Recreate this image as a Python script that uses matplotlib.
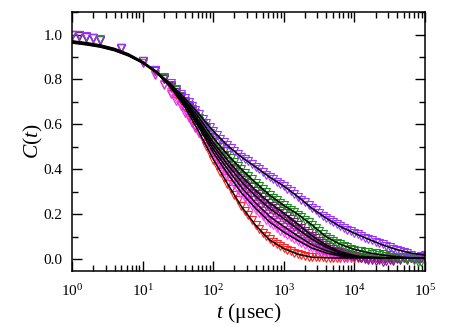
import matplotlib
matplotlib.use('Agg')
import matplotlib.pyplot as plt
from matplotlib.ticker import LogLocator, MultipleLocator, NullFormatter, FormatStrFormatter

plt.rcParams['font.family'] = 'Liberation Serif'
plt.rcParams['mathtext.fontset'] = 'custom'
plt.rcParams['mathtext.rm'] = 'Liberation Serif'
plt.rcParams['mathtext.it'] = 'Liberation Serif:italic'

# time points of the measured correlation (usec)
t_data = [1, 1.25, 1.6, 2, 2.5, 5,
          10, 15, 20, 25, 30, 35, 40, 45, 50, 56, 63, 71, 79, 89,
          100, 112, 126, 141, 158, 178, 200, 224, 251, 282,
          316, 355, 398, 447, 501, 562, 631, 708, 794, 891,
          1000, 1120, 1260, 1410, 1580, 1780, 2000, 2240, 2510, 2820,
          3160, 3550, 3980, 4470, 5010, 5620, 6310, 7080, 7940, 8910,
          10000, 11200, 12600, 14100, 15800, 17800, 20000, 22400, 25100, 28200,
          31600, 35500, 39800, 44700, 50100, 56200, 63100, 70800, 79400, 89100,
          100000]

red = [1.0, .995, .990, .984, .976, .940,
       .882, .838, .800, .762, .730, .705, .672, .646, .620, .592, .562, .533, .505, .474,
       .443, .414, .386, .361, .336, .310, .286, .262, .238, .216,
       .196, .174, .153, .135, .118, .102, .088, .076, .065, .057,
       .049, .041, .034, .028, .022, .018, .014, .010, .009, .009,
       .008, .008, .007, .007, .007, .006, .006, .007, .006, .005,
       .005, .006, .005, .004, .005, .006, .005, .004, .005, .006,
       .005, .004, .005, .006, .005, .004, .005, .005, .006, .005,
       .005]
magenta_a = [1.0, .996, .990, .985, .977, .940,
             .872, .820, .775, .737, .706, .680, .652, .628, .606, .583, .560, .539, .519, .498,
             .478, .454, .430, .412, .393, .373, .355, .335, .316, .299,
             .283, .265, .247, .231, .215, .201, .187, .175, .163, .152,
             .141, .131, .121, .111, .100, .090, .080, .072, .064, .056,
             .049, .043, .037, .032, .027, .023, .020, .017, .015, .013,
             .012, .011, .010, .009, .008, .008, .007, .007, .006, .006,
             .006, .005, .005, .005, .004, .005, .005, .006, .005, .005,
             .005]
magenta_b = [.998, .994, .990, .983, .975, .938,
             .875, .825, .780, .745, .716, .690, .662, .638, .614, .590, .565, .540, .516, .490,
             .462, .437, .412, .391, .370, .348, .328, .308, .288, .271,
             .255, .237, .220, .205, .190, .176, .162, .150, .138, .127,
             .117, .108, .099, .090, .080, .071, .063, .056, .049, .043,
             .037, .032, .027, .023, .019, .016, .014, .012, .011, .010,
             .009, .008, .008, .007, .007, .006, .006, .006, .005, .005,
             .005, .004, .005, .005, .006, .005, .004, .005, .005, .005,
             .005]
purple_b = [.999, .995, .990, .983, .975, .939,
            .880, .836, .800, .768, .742, .718, .693, .671, .650, .627, .603, .579, .556, .530,
            .505, .481, .458, .439, .419, .399, .381, .363, .345, .328,
            .313, .296, .280, .265, .251, .238, .225, .213, .202, .190,
            .179, .168, .157, .145, .132, .120, .109, .099, .089, .080,
            .071, .062, .053, .045, .037, .031, .026, .021, .017, .014,
            .011, .009, .007, .010, .005, .008, .003, .007, .001, .006,
            .009, .002, .007, .004, .010, .003, .008, .005, .002, .007,
            .006]
purple_a = [1.0, .995, .989, .984, .976, .940,
            .882, .840, .803, .771, .746, .722, .699, .679, .659, .637, .614, .591, .569, .544,
            .520, .498, .476, .458, .439, .421, .404, .386, .369, .353,
            .338, .321, .305, .291, .277, .263, .250, .238, .226, .215,
            .204, .192, .180, .167, .153, .140, .127, .115, .103, .092,
            .081, .071, .062, .053, .045, .038, .032, .026, .021, .016,
            .012, .008, .004, .001, -.003, -.006, -.010, -.004, -.012, -.007,
            -.002, -.009, .001, -.004, .003, -.002, .005, .000, .006, .003,
            .004]
green = [1.0, .996, .991, .985, .977, .941,
         .882, .840, .805, .775, .752, .728, .705, .686, .668, .649, .630, .608, .586, .563,
         .540, .520, .500, .483, .465, .448, .432, .416, .400, .385,
         .372, .356, .340, .326, .312, .298, .285, .273, .261, .250,
         .239, .229, .220, .209, .198, .186, .174, .163, .152, .139,
         .126, .113, .100, .090, .080, .073, .066, .059, .053, .047,
         .042, .036, .037, .030, .031, .024, .026, .019, .021, .014,
         .016, .009, .010, .004, .007, .001, .006, -.004, -.012, -.015,
         .010]
violet = [1.0, .997, .992, .986, .978, .942,
          .882, .842, .810, .782, .758, .736, .716, .699, .682, .664, .645, .626, .607, .588,
          .570, .552, .535, .521, .507, .493, .480, .467, .455, .444,
          .435, .423, .411, .400, .388, .376, .365, .355, .345, .335,
          .325, .314, .303, .291, .278, .265, .252, .240, .228, .217,
          .205, .194, .183, .173, .163, .155, .146, .138, .130, .123,
          .116, .110, .103, .096, .090, .083, .077, .071, .065, .058,
          .053, .047, .042, .038, .033, .025, .018, .010, .008, .012,
          .018]

# time points of the fitted curves
t_fit = [1, 1.6, 2.5, 4, 6.3, 10, 16, 25, 40, 63, 100, 160, 250, 400, 630,
         1000, 1600, 2500, 4000, 6300, 10000, 16000, 25000, 40000, 63000, 100000]

fit_red = [0.968, 0.960, 0.950, 0.934, 0.910, 0.876, 0.830, 0.765, 0.675, 0.565, 0.445, 0.335, 0.235,
           0.150, 0.085, 0.047, 0.021, 0.008, 0.006, 0.005, 0.005, 0.005, 0.005, 0.005, 0.005, 0.005]
fit_magenta_a = [0.970, 0.962, 0.952, 0.936, 0.911, 0.877, 0.830, 0.768, 0.690, 0.595, 0.490, 0.400, 0.320,
                 0.250, 0.190, 0.145, 0.102, 0.064, 0.037, 0.020, 0.012, 0.008, 0.006, 0.005, 0.005, 0.005]
fit_magenta_b = [0.966, 0.958, 0.948, 0.932, 0.908, 0.874, 0.828, 0.766, 0.685, 0.585, 0.475, 0.380, 0.295,
                 0.225, 0.165, 0.120, 0.082, 0.049, 0.027, 0.014, 0.009, 0.006, 0.005, 0.005, 0.005, 0.005]
fit_purple_a = [0.972, 0.964, 0.954, 0.938, 0.914, 0.880, 0.834, 0.772, 0.700, 0.615, 0.520, 0.440, 0.370,
                0.305, 0.250, 0.205, 0.154, 0.104, 0.062, 0.033, 0.016, 0.008, 0.005, 0.004, 0.004, 0.004]
fit_purple_b = [0.964, 0.956, 0.946, 0.930, 0.906, 0.873, 0.828, 0.770, 0.695, 0.605, 0.505, 0.420, 0.345,
                0.280, 0.225, 0.180, 0.132, 0.089, 0.053, 0.026, 0.012, 0.007, 0.006, 0.006, 0.006, 0.006]
fit_green = [0.967, 0.959, 0.949, 0.933, 0.909, 0.876, 0.832, 0.775, 0.705, 0.630, 0.540, 0.465, 0.400,
             0.340, 0.285, 0.239, 0.198, 0.152, 0.099, 0.066, 0.043, 0.028, 0.018, 0.010, 0.006, 0.004]
fit_violet = [0.962, 0.954, 0.944, 0.928, 0.905, 0.874, 0.833, 0.780, 0.715, 0.645, 0.570, 0.505, 0.455,
              0.410, 0.365, 0.325, 0.277, 0.226, 0.182, 0.145, 0.115, 0.088, 0.063, 0.042, 0.027, 0.018]

series = [
    (red, fit_red, '#ff2020'),
    (magenta_b, fit_magenta_b, '#ff40ff'),
    (magenta_a, fit_magenta_a, '#e030e0'),
    (purple_b, fit_purple_b, '#a02ca0'),
    (purple_a, fit_purple_a, '#7f1a7f'),
    (green, fit_green, '#1c8a1c'),
    (violet, fit_violet, '#9933ff'),
]

fig = plt.figure(figsize=(4.68, 3.27), dpi=100)
ax = fig.add_axes([0.154, 0.172, 0.754, 0.791])

for data, fit, color in series:
    ax.plot(t_data, data, linestyle='none', marker='v', markersize=5.5,
            markerfacecolor='none', markeredgecolor=color, markeredgewidth=0.8)
for data, fit, color in series:
    ax.plot(t_fit, fit, color='black', linewidth=1.1)

ax.set_xscale('log')
ax.set_xlim(1, 1e5)
ax.set_ylim(-0.052, 1.1)
ax.yaxis.set_major_locator(MultipleLocator(0.2))
ax.yaxis.set_minor_locator(MultipleLocator(0.1))
ax.yaxis.set_major_formatter(FormatStrFormatter('%.1f'))
ax.xaxis.set_minor_locator(LogLocator(base=10, subs=range(2, 10), numticks=20))
ax.xaxis.set_minor_formatter(NullFormatter())

ax.tick_params(which='both', direction='in', top=True, right=True, width=1.0,
               labelsize=11, pad=7)
ax.tick_params(axis='x', which='both', pad=9)
ax.tick_params(which='major', length=7)
ax.tick_params(which='minor', length=4.3)
for s in ax.spines.values():
    s.set_linewidth(1.1)

ax.set_xlabel(r'$t$ ($\mathrm{\mu}$sec)', fontsize=15.5, labelpad=1)
ax.set_ylabel(r'$C$($t$)', fontsize=15.5)
ax.yaxis.set_label_coords(-0.077, 0.5)

fig.savefig('out.png', dpi=100)
